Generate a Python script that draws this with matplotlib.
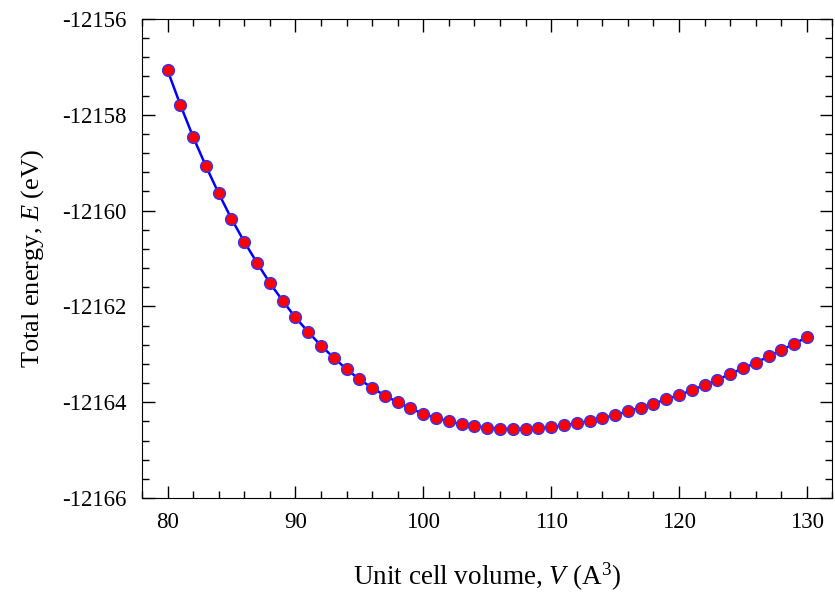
import matplotlib
matplotlib.use('Agg')
import matplotlib.pyplot as plt
from matplotlib.ticker import MultipleLocator

plt.rcParams['font.family'] = 'Liberation Serif'
plt.rcParams['mathtext.fontset'] = 'custom'
plt.rcParams['mathtext.rm'] = 'Liberation Serif'
plt.rcParams['mathtext.it'] = 'Liberation Serif:italic'
plt.rcParams['axes.unicode_minus'] = False

volume = list(range(80, 131))
energy = [
    -12157.07, -12157.79, -12158.46, -12159.07, -12159.64, -12160.17, -12160.65,
    -12161.09, -12161.51, -12161.88, -12162.23, -12162.53, -12162.82, -12163.07,
    -12163.31, -12163.52, -12163.70, -12163.86, -12164.00, -12164.13, -12164.24,
    -12164.33, -12164.40, -12164.46, -12164.50, -12164.53, -12164.55, -12164.56,
    -12164.55, -12164.54, -12164.52, -12164.48, -12164.44, -12164.39, -12164.33,
    -12164.27, -12164.19, -12164.11, -12164.03, -12163.94, -12163.85, -12163.75,
    -12163.64, -12163.53, -12163.41, -12163.29, -12163.18, -12163.04, -12162.91,
    -12162.78, -12162.64,
]

fig = plt.figure(figsize=(8.35, 6.03), dpi=100)
ax = fig.add_axes([0.170, 0.174, 0.827, 0.7945])

ax.plot(volume, energy, color='blue', lw=1.8, marker='o', ms=8.5,
        mfc='red', mec='#3333ff', mew=1.0)

ax.set_xlim(78, 132)
ax.set_ylim(-12166, -12156)
ax.xaxis.set_major_locator(MultipleLocator(10))
ax.xaxis.set_minor_locator(MultipleLocator(2))
ax.yaxis.set_major_locator(MultipleLocator(2))
ax.yaxis.set_minor_locator(MultipleLocator(0.4))
ax.tick_params(which='both', direction='in', top=True, right=True, labelsize=16.5)
ax.tick_params(which='major', length=9, width=1)
ax.tick_params(which='minor', length=5, width=1)
ax.tick_params(axis='x', pad=10)
ax.tick_params(axis='y', pad=11)
ax.yaxis.get_major_formatter().set_useOffset(False)

ax.set_xlabel(r'Unit cell volume, $V$ (A$^3$)', fontsize=19.5, labelpad=20)
ax.set_ylabel(r'Total energy, $E$ (eV)', fontsize=19, labelpad=12)

fig.savefig('out.png', dpi=100)
